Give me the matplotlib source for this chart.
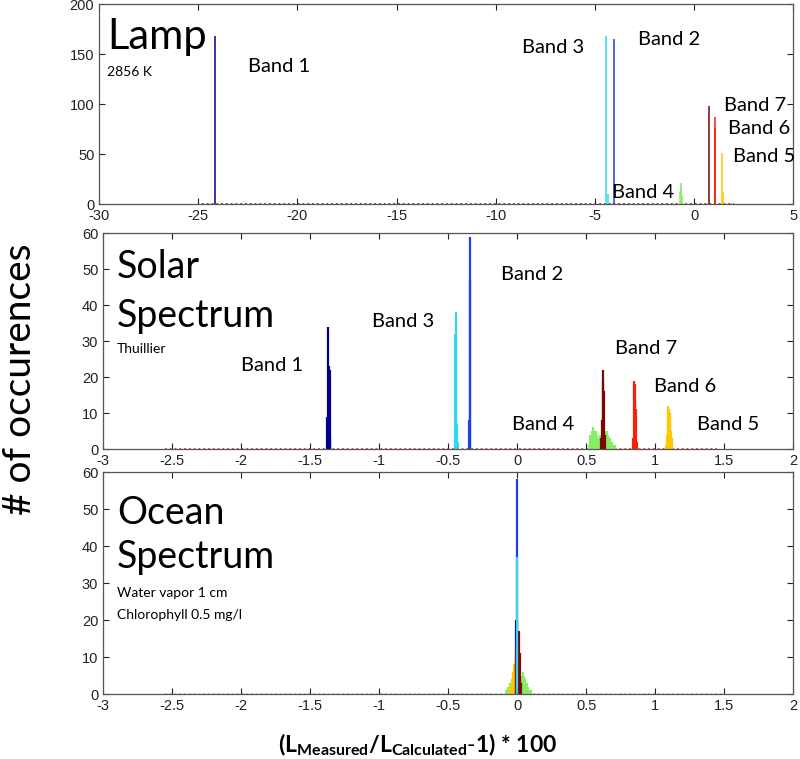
import matplotlib.pyplot as plt
from matplotlib.ticker import FormatStrFormatter

plt.rcParams['font.family'] = ['Liberation Sans', 'DejaVu Sans']
plt.rcParams['axes.unicode_minus'] = False
plt.rcParams['mathtext.fontset'] = 'custom'
plt.rcParams['mathtext.rm'] = 'Lato'
plt.rcParams['mathtext.bf'] = 'Lato:bold'

band_names = ['Band 1', 'Band 2', 'Band 3', 'Band 4', 'Band 5', 'Band 6', 'Band 7']
band_colors = ['#00008f', '#1f40e6', '#33d6f0', '#86ee62', '#ffc800', '#f4220a', '#7a0606']

# --- Lamp 2856 K : histogram bin centres / counts, one list per band ---
lamp_centers = [
    [-24.14],
    [-4.04],
    [-4.42, -4.36],
    [-0.72, -0.68, -0.64, -0.60],
    [1.40, 1.46],
    [1.04, 1.08],
    [0.76],
]
lamp_counts = [
    [168],
    [165],
    [168, 10],
    [12, 21, 18, 8],
    [51, 12],
    [87, 76],
    [98],
]
lamp_base = [-24.8, 2.0]
lamp_label_x = [-22.5, -2.85, -8.7, -4.15, 1.95, 1.7, 1.5]
lamp_label_y = [138, 165, 157, 12, 48, 76, 99]

# --- Solar spectrum (Thuillier) ---
solar_centers = [
    [-1.375, -1.37, -1.365, -1.36, -1.355],
    [-0.35, -0.345, -0.34],
    [-0.45, -0.445, -0.44, -0.435, -0.43],
    [0.52, 0.53, 0.54, 0.55, 0.56, 0.57, 0.58, 0.59, 0.60, 0.61,
     0.62, 0.63, 0.64, 0.65, 0.66, 0.67, 0.68, 0.69, 0.70, 0.71],
    [1.08, 1.085, 1.09, 1.095, 1.10, 1.105, 1.11, 1.115, 1.12, 1.125],
    [0.84, 0.845, 0.85, 0.855, 0.86, 0.865],
    [0.61, 0.615, 0.62, 0.625, 0.63, 0.635],
]
solar_counts = [
    [9, 34, 23, 22, 4],
    [8, 59, 47],
    [32, 38, 27, 7, 2],
    [1, 4, 5, 6, 5, 5, 4, 3, 4, 3, 2, 4, 5, 5, 4, 3, 2, 2, 1, 1],
    [1, 4, 8, 12, 11, 10, 8, 5, 3, 1],
    [3, 19, 18, 13, 11, 2],
    [3, 8, 22, 19, 16, 4],
]
solar_base = [-2.55, 1.45]
solar_label_x = [-2.0, -0.12, -1.05, -0.04, 1.3, 0.99, 0.71]
solar_label_y = [23.3, 48.6, 35.3, 6.7, 6.7, 17.5, 28]

# --- Ocean spectrum ---
ocean_centers = [
    [-0.01, 0.0],
    [0.0],
    [0.0],
    [-0.08, -0.07, -0.06, -0.05, -0.04, -0.03, -0.02, -0.01, 0.0, 0.01,
     0.02, 0.03, 0.04, 0.05, 0.06, 0.07, 0.08, 0.09, 0.10],
    [-0.05, -0.04, -0.03, -0.02, -0.01, 0.0],
    [0.0, 0.01],
    [-0.01, 0.0, 0.01, 0.02, 0.03],
]
ocean_counts = [
    [20, 8],
    [58],
    [37],
    [1, 2, 2, 3, 4, 5, 6, 5, 4, 4, 4, 5, 6, 5, 4, 3, 2, 1, 1],
    [2, 4, 6, 8, 10, 7],
    [14, 10],
    [12, 20, 17, 11, 3],
]
ocean_base = [-2.55, 1.5]

draw_order = [3, 4, 0, 5, 6, 1, 2]

fig = plt.figure(figsize=(8, 7.59), dpi=100)
ax1 = fig.add_axes([0.124, 0.7312, 0.8675, 0.2635])
ax2 = fig.add_axes([0.129, 0.4084, 0.8625, 0.2846])
ax3 = fig.add_axes([0.129, 0.0856, 0.8625, 0.2925])

ann = dict(family=['Lato', 'DejaVu Sans'], color='black')


def draw_panel(ax, centers, counts, base, lw, base_color):
    ax.plot(base, [0, 0], ':', color=base_color, lw=1.3, zorder=1)
    for i in draw_order:
        ax.vlines(centers[i], 0, counts[i], color=band_colors[i], lw=lw, zorder=2)
    ax.tick_params(direction='in', top=True, right=True, length=4,
                   labelsize=10.5, colors='#222222')
    for s in ax.spines.values():
        s.set_color('#555555')
        s.set_linewidth(0.9)
    ax.xaxis.set_major_formatter(FormatStrFormatter('%g'))


draw_panel(ax1, lamp_centers, lamp_counts, lamp_base, 1.1, '#8a2a3a')
ax1.set_xlim(-30, 5)
ax1.set_ylim(0, 200)
ax1.set_xticks(range(-30, 6, 5))
ax1.set_yticks([0, 50, 100, 150, 200])
ax1.text(-29.6, 167, 'Lamp', fontsize=30, va='center', **ann)
ax1.text(-29.6, 132, '2856 K', fontsize=10, va='center', **ann)
for i in range(7):
    ax1.text(lamp_label_x[i], lamp_label_y[i], band_names[i], fontsize=14.5, va='center', **ann)

xt = [-3, -2.5, -2, -1.5, -1, -0.5, 0, 0.5, 1, 1.5, 2]

draw_panel(ax2, solar_centers, solar_counts, solar_base, 1.6, '#d04040')
ax2.set_xlim(-3, 2)
ax2.set_ylim(0, 60)
ax2.set_xticks(xt)
ax2.set_yticks(range(0, 61, 10))
ax2.text(-2.9, 50.5, 'Solar', fontsize=27, va='center', **ann)
ax2.text(-2.9, 37, 'Spectrum', fontsize=27, va='center', **ann)
ax2.text(-2.9, 27.8, 'Thuillier', fontsize=10, va='center', **ann)
for i in range(7):
    ax2.text(solar_label_x[i], solar_label_y[i], band_names[i], fontsize=14.5, va='center', **ann)

draw_panel(ax3, ocean_centers, ocean_counts, ocean_base, 1.6, '#b8b8b8')
ax3.set_xlim(-3, 2)
ax3.set_ylim(0, 60)
ax3.set_xticks(xt)
ax3.set_yticks(range(0, 61, 10))
ax3.text(-2.9, 49, 'Ocean', fontsize=27, va='center', **ann)
ax3.text(-2.9, 37, 'Spectrum', fontsize=27, va='center', **ann)
ax3.text(-2.9, 27.3, 'Water vapor 1 cm', fontsize=10, va='center', **ann)
ax3.text(-2.9, 21.4, 'Chlorophyll 0.5 mg/l', fontsize=10, va='center', **ann)

fig.text(0.025, 0.5, '# of occurences', rotation=90, fontsize=28,
         ha='center', va='center', **ann)
fig.text(0.522, 0.018, r'$\mathbf{(L_{Measured}/L_{Calculated}\text{-}1)}$ * 100',
         fontsize=16.5, fontweight='bold', ha='center', va='center', **ann)

fig.savefig('out.png', dpi=100)
